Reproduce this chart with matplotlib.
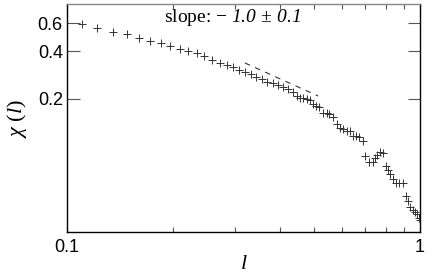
import matplotlib
matplotlib.use("Agg")
import matplotlib.pyplot as plt
from matplotlib.ticker import FixedLocator, NullFormatter, NullLocator

plt.rcParams["mathtext.fontset"] = "custom"
plt.rcParams["mathtext.rm"] = "Liberation Serif"
plt.rcParams["mathtext.it"] = "Liberation Serif:italic"
# italic digits: mathtext draws digits of \mathit upright, so use sf slot
plt.rcParams["mathtext.sf"] = "Liberation Serif:italic"

# data (log-log)
l_vals = [0.110, 0.122, 0.135, 0.148, 0.160, 0.172, 0.185, 0.196, 0.209, 0.220,
          0.233, 0.244, 0.257, 0.271, 0.284, 0.295, 0.307, 0.319, 0.332, 0.343,
          0.357, 0.369, 0.383, 0.396, 0.409, 0.423, 0.437, 0.448, 0.457, 0.466,
          0.479, 0.488, 0.498, 0.508, 0.518, 0.531, 0.545, 0.552, 0.567, 0.582,
          0.594, 0.605, 0.621, 0.634, 0.646, 0.659, 0.672, 0.690, 0.699, 0.717,
          0.736, 0.746, 0.755, 0.770, 0.786, 0.801, 0.812, 0.822, 0.838, 0.855,
          0.872, 0.895, 0.913, 0.925, 0.937, 0.955, 0.968, 0.981, 0.993, 0.998]
chi_vals = [0.593, 0.559, 0.528, 0.509, 0.484, 0.460, 0.447, 0.431, 0.413, 0.401,
            0.389, 0.373, 0.352, 0.337, 0.327, 0.318, 0.304, 0.296, 0.287, 0.275,
            0.267, 0.256, 0.252, 0.245, 0.238, 0.231, 0.221, 0.209, 0.203, 0.203,
            0.200, 0.197, 0.186, 0.181, 0.178, 0.163, 0.163, 0.161, 0.154, 0.139,
            0.131, 0.130, 0.126, 0.126, 0.117, 0.117, 0.115, 0.109, 0.0876, 0.0803,
            0.0803, 0.0851, 0.0889, 0.0928, 0.0915, 0.0758, 0.0715, 0.0675, 0.0628, 0.0593,
            0.0593, 0.0593, 0.0491, 0.0457, 0.0419, 0.0401, 0.0389, 0.0378, 0.0357, 0.0347]

# slope -1 guide line
fit_l = [0.319, 0.514]
fit_chi = [0.337, 0.209]

y_ticks = [0.2, 0.4, 0.6]
x_minor = [0.2, 0.3, 0.4, 0.5, 0.6, 0.7, 0.8, 0.9]

fig = plt.figure(figsize=(4.36, 2.73), dpi=100)
ax = fig.add_axes([0.1537, 0.150, 0.8096, 0.8355])

ax.plot(l_vals, chi_vals, linestyle="none", marker="+", color="#333333",
        markersize=6, markeredgewidth=0.7)
ax.plot(fit_l, fit_chi, color="#333333", lw=0.8, linestyle=(0, (5, 5)))

ax.set_xscale("log")
ax.set_yscale("log")
ax.set_xlim(0.1, 1.0)
ax.set_ylim(0.0291, 0.792)

ax.xaxis.set_major_locator(FixedLocator([0.1, 1.0]))
ax.xaxis.set_minor_locator(FixedLocator(x_minor))
ax.xaxis.set_minor_formatter(NullFormatter())
ax.set_xticklabels(["0.1", "1"])
ax.yaxis.set_major_locator(FixedLocator(y_ticks))
ax.yaxis.set_minor_locator(NullLocator())
ax.set_yticklabels(["0.2", "0.4", "0.6"])

ax.tick_params(which="both", direction="in", top=True, right=True,
               labelsize=13)
ax.tick_params(axis="y", which="major", length=9, width=0.8, colors="#555555",
               labelcolor="black", pad=3)
ax.tick_params(axis="x", which="both", length=3.5, width=0.8, colors="#555555",
               labelcolor="black", pad=5)
for lab in ax.get_xticklabels() + ax.get_yticklabels():
    lab.set_family("Liberation Sans")

for side in ["left", "bottom", "right"]:
    ax.spines[side].set_linewidth(1.0)
    ax.spines[side].set_color("black")
ax.spines["top"].set_linewidth(1.0)
ax.spines["top"].set_color("#888888")

ax.set_xlabel(r"$l$", fontsize=16, labelpad=-2)
ax.set_ylabel(r"$\chi\ (l)$", fontsize=16, labelpad=6)

ax.text(0.468, 0.94, r"slope: $-\ \mathsf{1.0}\,\pm\,\mathsf{0.1}$",
        transform=ax.transAxes, ha="center", va="center", fontsize=14,
        family="Liberation Serif")

fig.savefig("out.png", dpi=100)
